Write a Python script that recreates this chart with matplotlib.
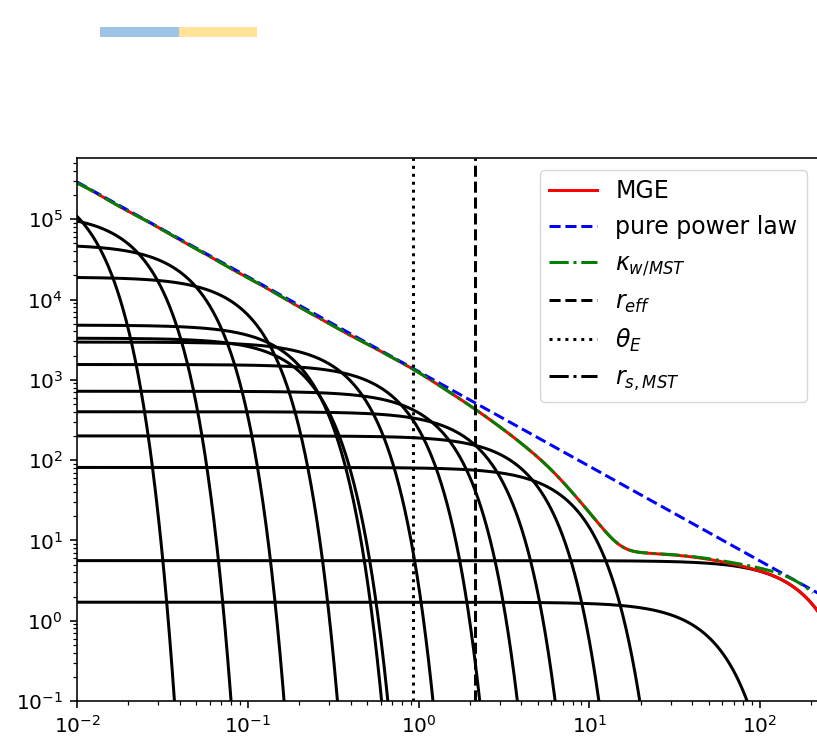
import numpy as np
import matplotlib
matplotlib.use("Agg")
import matplotlib.pyplot as plt
from matplotlib.patches import Rectangle

# Gaussian components of the MGE (peak amplitude, sigma)
mge_amp = [3.2e5, 1.18e5, 4.85e4, 1.9e4, 4.8e3, 3.3e3, 2.95e3, 1.55e3, 720, 400, 200, 81, 5.6, 1.7]
mge_sigma = [0.0068, 0.0151, 0.0319, 0.068, 0.131, 0.145, 0.268, 0.52, 0.9, 1.55, 2.92, 5.4, 128, 35.3]
# the w/MST profile differs only in the width of the broad sheet component
mst_sigma = [0.0068, 0.0151, 0.0319, 0.068, 0.131, 0.145, 0.268, 0.52, 0.9, 1.55, 2.92, 5.4, 150, 35.3]

# pure power law: kappa(r) = pl_norm * r**(-pl_slope)
pl_norm = 1.27e3
pl_slope = 1.18

theta_E = 0.93
r_eff = 2.14
r_s_mst = 400.0

r_max_mge = 222.0
r_max_mst = 204.0

s = 1.44  # screen scale of the original notebook figure
plt.rcParams.update({
    "font.size": 10 * s,
    "lines.linewidth": 1.5 * s,
    "axes.linewidth": 0.8 * s,
    "xtick.major.size": 3.5 * s, "ytick.major.size": 3.5 * s,
    "xtick.minor.size": 2 * s, "ytick.minor.size": 2 * s,
    "xtick.major.width": 0.8 * s, "ytick.major.width": 0.8 * s,
    "xtick.minor.width": 0.6 * s, "ytick.minor.width": 0.6 * s,
    "xtick.major.pad": 3.5 * s, "ytick.major.pad": 3.5 * s,
})


def gauss(r, a, sig):
    return a * np.exp(-r ** 2 / (2 * sig ** 2))


W, H = 817, 741
fig = plt.figure(figsize=(W / 100, H / 100), dpi=100)
ax = fig.add_axes([77 / W, 40 / H, 742 / W, 543 / H])

r = np.logspace(-2, np.log10(r_max_mge), 3000)
r2 = np.logspace(-2, np.log10(r_max_mst), 3000)

for a, sig in zip(mge_amp, mge_sigma):
    ax.plot(r, gauss(r, a, sig), color="k")

kappa_mge = sum(gauss(r, a, sig) for a, sig in zip(mge_amp, mge_sigma))
kappa_mst = sum(gauss(r2, a, sig) for a, sig in zip(mge_amp, mst_sigma))

ax.plot(r, kappa_mge, "r", label="MGE")
ax.plot(r, pl_norm * r ** (-pl_slope), "b--", label="pure power law")
ax.plot(r2, kappa_mst, "g-.", label=r"$\kappa_{w/MST}$")
ax.axvline(r_eff, color="k", ls="--", label=r"$r_{eff}$")
ax.axvline(theta_E, color="k", ls=":", label=r"$\theta_E$")
ax.axvline(r_s_mst, color="k", ls="-.", label=r"$r_{s,MST}$")

ax.set_xscale("log")
ax.set_yscale("log")
ax.set_xlim(1e-2, 10 ** (742 / 170.75 - 2))
ax.set_ylim(1e-1, 10 ** (543 / 80.3 - 1))

ax.legend(loc="upper right", bbox_to_anchor=(807 / W, 1 - 170 / H),
          bbox_transform=fig.transFigure, borderaxespad=0, fontsize=17)

# toolbar strip above the figure in the screenshot
fig.patches.append(Rectangle((100 / W, 1 - 37 / H), 79 / W, 10 / H,
                             transform=fig.transFigure, color="#a0c4e8", lw=0))
fig.patches.append(Rectangle((179 / W, 1 - 37 / H), 78 / W, 10 / H,
                             transform=fig.transFigure, color="#ffe398", lw=0))

fig.savefig("out.png", dpi=100)
